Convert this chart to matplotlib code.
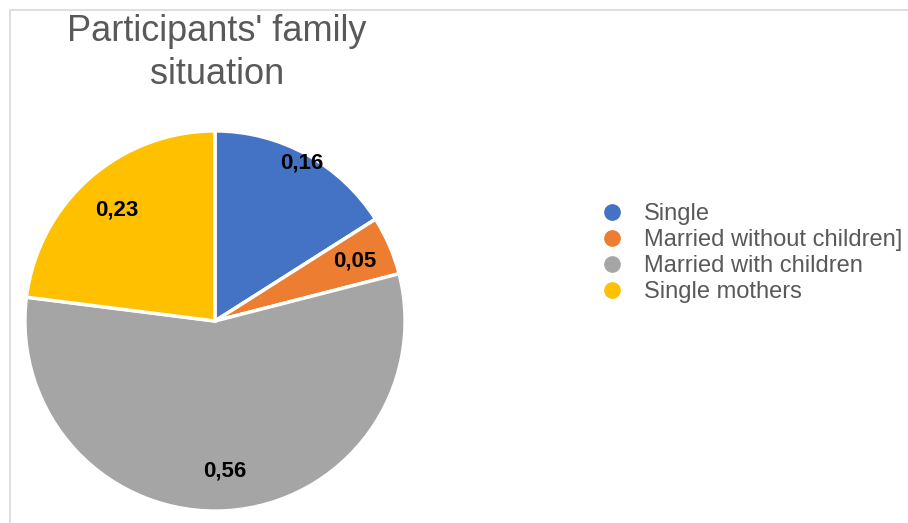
import matplotlib

matplotlib.use("Agg")

from matplotlib import pyplot as plt  # noqa: E402
from matplotlib.lines import Line2D  # noqa: E402
from matplotlib.patches import Rectangle  # noqa: E402
import numpy as np  # noqa: E402

plt.rcParams["font.family"] = ["Liberation Sans", "DejaVu Sans"]

TITLE = "Participants' family\nsituation"
CATEGORIES = ["Single", "Married without children]", "Married with children", "Single mothers"]
SHARES = [0.16, 0.05, 0.56, 0.23]
LABELS = ["0,16", "0,05", "0,56", "0,23"]

COLORS = ["#4472C4", "#ED7D31", "#A5A5A5", "#FFC000"]
LABEL_RADII = [0.95, 0.80, 0.79, 0.78]
TEXT = "#595959"
FRAME = "#D9D9D9"

W, H = 908, 523
fig = plt.figure(figsize=(W / 100, H / 100), dpi=100)
fig.patch.set_facecolor("white")

# chart area frame (only left and top edges visible in the crop)
fig.patches.append(
    Rectangle((10 / W, -0.05), 1.2, 1 - 10 / H + 0.05, transform=fig.transFigure,
              fill=False, edgecolor=FRAME, linewidth=1.2)
)

cx, cy, r = 215, 321, 192
ax = fig.add_axes([(cx - r) / W, (H - cy - r) / H, 2 * r / W, 2 * r / H])
wedges, _ = ax.pie(
    SHARES,
    colors=COLORS,
    startangle=90,
    counterclock=False,
    radius=1.0,
    wedgeprops={"edgecolor": "white", "linewidth": 2.5},
)
ax.set_xlim(-1.01, 1.01)
ax.set_ylim(-1.01, 1.01)
ax.set_aspect("equal")
ax.axis("off")

for wedge, label, dist in zip(wedges, LABELS, LABEL_RADII):
    mid = np.deg2rad((wedge.theta1 + wedge.theta2) / 2)
    ax.text(dist * np.cos(mid), dist * np.sin(mid), label,
            ha="center", va="center", fontsize=16, fontweight="bold", color="black")

fig.text(217 / W, 1 - 53 / H, TITLE, ha="center", va="center",
         fontsize=26, color=TEXT, linespacing=1.3)

handles = [
    Line2D([], [], linestyle="none", marker="o", markersize=11,
           markerfacecolor=c, markeredgecolor=c)
    for c in COLORS
]
fig.legend(
    handles, CATEGORIES,
    loc="center left",
    bbox_to_anchor=(600 / W, 1 - 253 / H),
    frameon=False,
    fontsize=17,
    labelcolor=TEXT,
    handlelength=1.0,
    handletextpad=0.85,
    labelspacing=0.17,
    borderpad=0,
    borderaxespad=0,
)

fig.savefig("out.png", dpi=100, facecolor="white")
